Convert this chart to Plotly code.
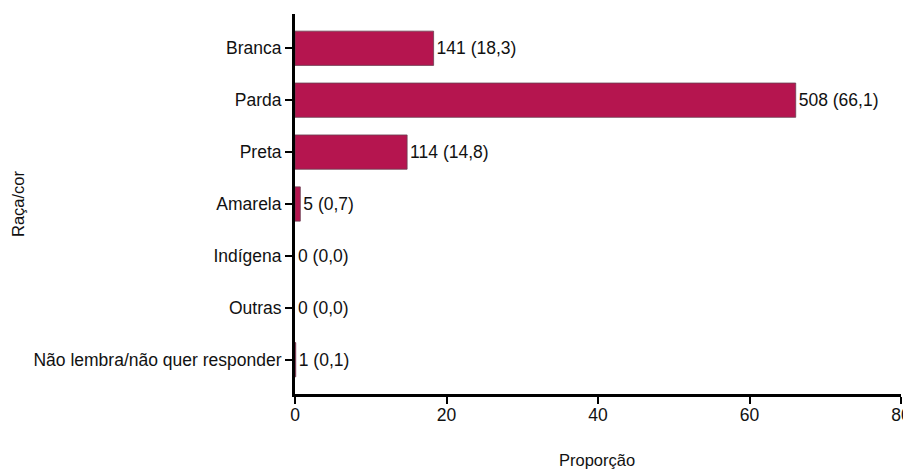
import plotly.graph_objects as go

categories = ["Branca", "Parda", "Preta", "Amarela", "Indígena", "Outras", "Não lembra/não quer responder"]
counts = [141, 508, 114, 5, 0, 0, 1]
proportions = [18.3, 66.1, 14.8, 0.7, 0.0, 0.0, 0.1]

labels = [f"{c} ({p:.1f})".replace(".", ",") for c, p in zip(counts, proportions)]

FONT = "Liberation Sans, Arial, sans-serif"
FS = 17.5

# the page body adds an 8px margin, so the figure is 8px smaller than the window
OFF = 8
W, H = 911 - OFF, 471 - OFF
L, T = 295 - OFF, 14 - OFF
R = W - (901 - OFF)
B = H - (394 - OFF)

fig = go.Figure(
    go.Bar(
        x=proportions,
        y=categories,
        orientation="h",
        width=0.66,
        marker=dict(
            color="#B5154F",
            line=dict(color="#6a4050", width=[0.8 if p > 0 else 0 for p in proportions]),
        ),
        text=labels,
        textposition="outside",
        textfont=dict(family=FONT, size=FS, color="#111"),
        cliponaxis=False,
    )
)

fig.update_layout(
    width=W,
    height=H,
    margin=dict(l=L, r=R, t=T, b=B, autoexpand=False),
    plot_bgcolor="white",
    paper_bgcolor="white",
    font=dict(family=FONT, size=FS, color="#111"),
    showlegend=False,
)

fig.update_xaxes(
    range=[0, 80],
    tickvals=[0, 20, 40, 60, 80],
    automargin=False,
    showgrid=False,
    zeroline=False,
    showline=True,
    linecolor="black",
    linewidth=3,
    ticks="outside",
    ticklen=7,
    tickwidth=2,
    tickcolor="black",
    tickfont=dict(size=FS),
    ticklabelstandoff=-4,
)

fig.update_yaxes(
    categoryorder="array",
    categoryarray=categories,
    autorange=False,
    range=[6.66, -0.66],
    automargin=False,
    showgrid=False,
    zeroline=False,
    showline=True,
    linecolor="black",
    linewidth=3,
    ticks="outside",
    ticklen=7,
    tickwidth=2,
    tickcolor="black",
    tickfont=dict(size=FS),
)

pw, ph = W - L - R, H - T - B
fig.add_annotation(
    text="Proporção", xref="paper", yref="paper",
    x=(597 - OFF - L) / pw, y=-((460 - OFF) - (H - B)) / ph,
    xanchor="center", yanchor="middle", showarrow=False,
    font=dict(size=FS - 1),
)
fig.add_annotation(
    text="Raça/cor", xref="paper", yref="paper",
    x=-(L - (18 - OFF)) / pw, y=((H - B) - (204 - OFF)) / ph,
    xanchor="center", yanchor="middle", showarrow=False, textangle=-90,
    font=dict(size=FS - 1),
)

fig.write_html("out.html")
